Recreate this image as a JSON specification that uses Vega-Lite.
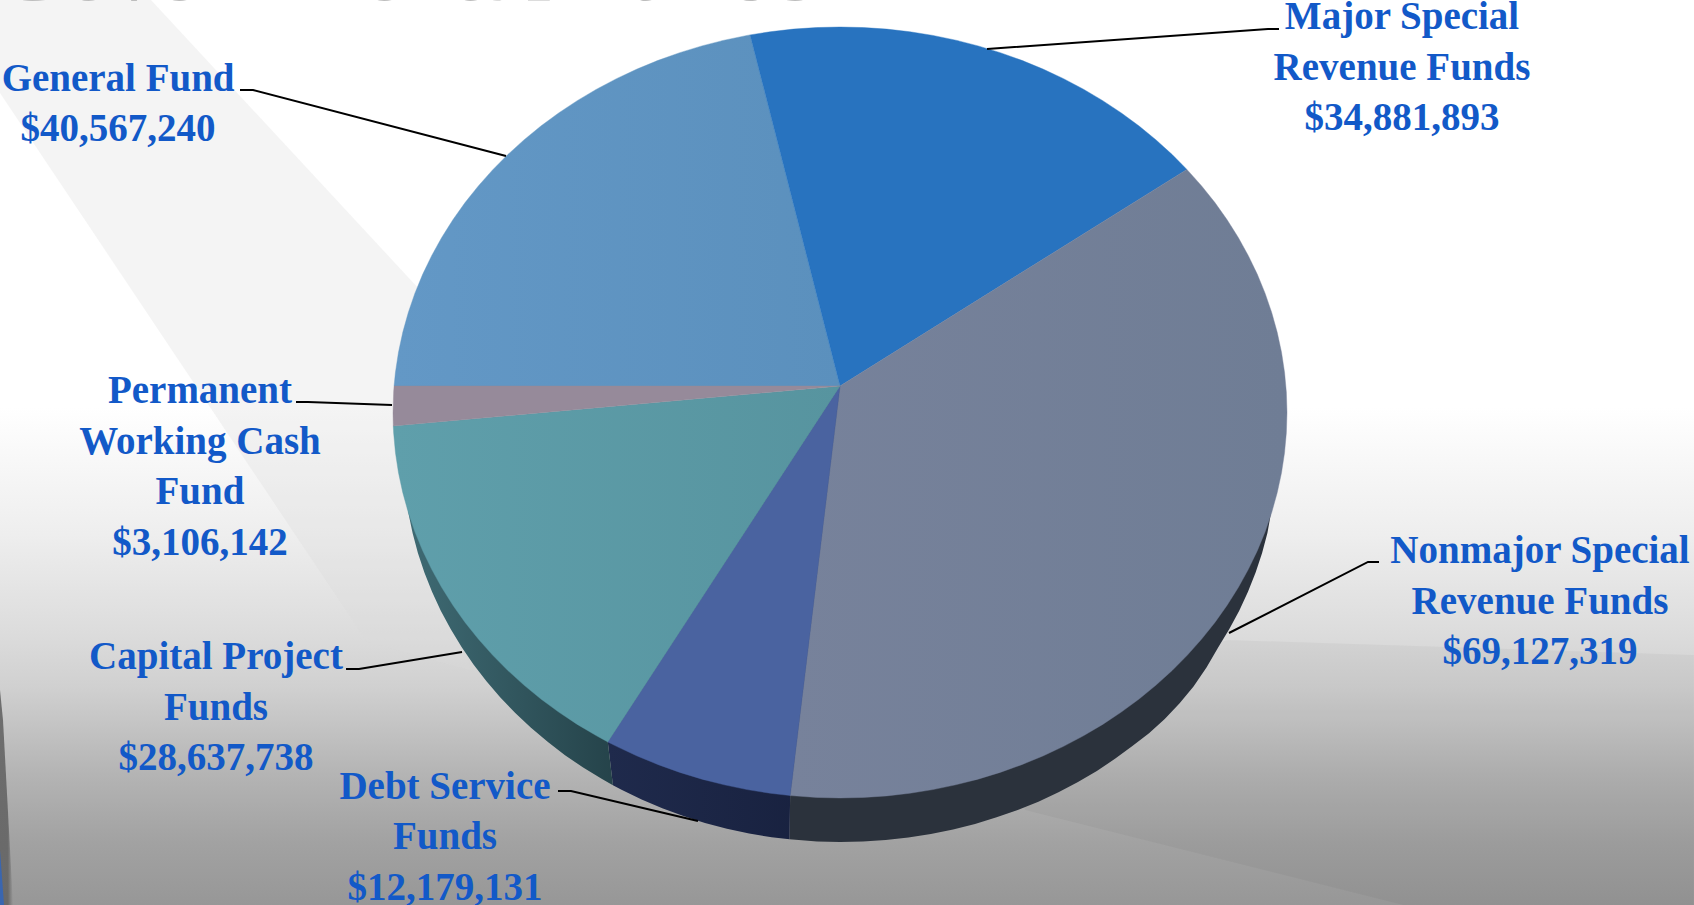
{
  "$schema": "https://vega.github.io/schema/vega-lite/v6.json",
  "description": "Governmental funds: six-part tilted pie with a rim, drawn as polygons in units of percent of the pie's horizontal radius.",
  "width": 1694,
  "height": 905,
  "padding": 0,
  "autosize": "none",
  "background": "#ffffff",
  "view": {"stroke": null},
  "projection": {"type": "identity", "reflectY": true, "scale": 4.47, "translate": [840, 386]},
  "datasets": {
    "backdrop": [
      {"type": "Feature", "properties": {"part": "panel"}, "geometry": {"type": "Polygon", "coordinates": [[[-187.92, 86.35], [191.05, 86.35], [191.05, -116.11], [-187.92, -116.11], [-187.92, 86.35]]]}},
      {"type": "Feature", "properties": {"part": "bandLeft"}, "geometry": {"type": "Polygon", "coordinates": [[[-187.92, 86.35], [-154.14, 86.35], [-93.96, 21.48], [-82.77, -63.53], [-105.82, -57.27], [-187.92, 65.55], [-187.92, 86.35]]]}},
      {"type": "Feature", "properties": {"part": "bandRight"}, "geometry": {"type": "Polygon", "coordinates": [[[86.8, -56.82], [191.05, -60.18], [191.05, -116.11], [125.95, -116.11], [41.39, -94.85], [35.8, -70.2], [86.8, -56.82]]]}},
      {"type": "Feature", "properties": {"part": "edge"}, "geometry": {"type": "Polygon", "coordinates": [[[-187.92, -68.0], [-187.25, -74.72], [-185.0, -116.11], [-187.92, -116.11], [-187.92, -68.0]]]}},
      {"type": "Feature", "properties": {"part": "edgeTip"}, "geometry": {"type": "Polygon", "coordinates": [[[-187.92, -103.8], [-187.02, -116.11], [-187.92, -116.11], [-187.92, -103.8]]]}}
    ],
    "rim": [
      {"type": "Feature", "properties": {"fund": "Nonmajor Special Revenue Funds"}, "geometry": {"type": "Polygon", "coordinates": [[[0, 0], [97.76, -14.77], [97.22, -23.89], [95.62, -32.91], [94.43, -37.35], [92.98, -41.73], [91.27, -46.04], [89.31, -50.26], [87.1, -54.38], [84.66, -58.4], [81.99, -63], [79.09, -67.2], [75.98, -71], [72.65, -74.5], [69.13, -77.7], [65.41, -80.54], [61.52, -83.4], [57.46, -86.13], [53.24, -88.6], [48.88, -90.9], [44.38, -93], [39.76, -94.85], [35.03, -96.5], [30.21, -98], [25.3, -99.2], [20.33, -100.2], [15.29, -101], [10.22, -101.54], [5.12, -101.9], [0, -102.02], [-5.12, -101.9], [-11.3, -101.4], [-11.15, -91.63], [0, 0]]]}},
      {"type": "Feature", "properties": {"fund": "Debt Service Funds"}, "geometry": {"type": "Polygon", "coordinates": [[[0, 0], [-11.15, -91.63], [-11.3, -101.4], [-15.29, -100.95], [-20.33, -100.11], [-25.3, -99.05], [-30.21, -97.75], [-35.03, -96.22], [-39.76, -94.48], [-44.38, -92.51], [-48.88, -90.33], [-50.8, -89.3], [-51.95, -79.62], [0, 0]]]}},
      {"type": "Feature", "properties": {"fund": "Capital Project Funds"}, "geometry": {"type": "Polygon", "coordinates": [[[0, 0], [-51.95, -79.62], [-50.8, -89.3], [-53.24, -87.94], [-57.46, -85.36], [-61.52, -82.58], [-65.41, -79.61], [-69.13, -76.47], [-72.65, -73.15], [-75.98, -69.68], [-79.09, -66.05], [-81.99, -62.29], [-84.66, -58.4], [-87.1, -54.38], [-89.31, -50.26], [-91.27, -46.04], [-92.98, -41.73], [-94.43, -37.35], [-95.62, -32.91], [-96.56, -28.42], [-97.22, -23.89], [0, 0]]]}}
    ],
    "slices": [
      {"type": "Feature", "properties": {"fund": "General Fund", "amount": 40567240}, "geometry": {"type": "Polygon", "coordinates": [[[0, 0], [-99.76, 0], [-99.45, 3.08], [-98.77, 7.56], [-97.81, 12], [-96.59, 16.39], [-95.11, 20.72], [-93.36, 24.98], [-91.35, 29.15], [-89.1, 33.22], [-86.6, 37.19], [-83.87, 41.04], [-80.9, 44.76], [-77.72, 48.34], [-74.31, 51.78], [-70.71, 55.05], [-66.91, 58.16], [-62.93, 61.09], [-58.78, 63.84], [-54.46, 66.4], [-50, 68.76], [-45.4, 70.91], [-40.67, 72.85], [-35.84, 74.58], [-30.9, 76.09], [-25.88, 77.37], [-20.79, 78.43], [-20.11, 78.55], [0, 0]]]}},
      {"type": "Feature", "properties": {"fund": "Major Special Revenue Funds", "amount": 34881893}, "geometry": {"type": "Polygon", "coordinates": [[[0, 0], [-20.11, 78.55], [-15.64, 79.25], [-10.45, 79.84], [-5.23, 80.19], [0, 80.31], [5.23, 80.19], [10.45, 79.84], [15.64, 79.25], [20.79, 78.43], [25.88, 77.37], [30.9, 76.09], [35.84, 74.58], [40.67, 72.85], [45.4, 70.91], [50, 68.76], [54.46, 66.4], [58.78, 63.84], [62.93, 61.09], [66.91, 58.16], [70.71, 55.05], [74.31, 51.78], [77.6, 48.46], [0, 0]]]}},
      {"type": "Feature", "properties": {"fund": "Nonmajor Special Revenue Funds", "amount": 69127319}, "geometry": {"type": "Polygon", "coordinates": [[[0, 0], [77.6, 48.46], [80.9, 44.76], [83.87, 41.04], [86.6, 37.19], [89.1, 33.22], [91.35, 29.15], [93.36, 24.98], [95.11, 20.72], [96.59, 16.39], [97.81, 12], [98.77, 7.56], [99.45, 3.08], [99.86, -1.42], [100, -5.93], [99.86, -10.44], [99.45, -14.94], [98.77, -19.42], [97.81, -23.86], [96.59, -28.25], [95.11, -32.58], [93.36, -36.84], [91.35, -41.01], [89.1, -45.08], [86.6, -49.05], [83.87, -52.9], [80.9, -56.62], [77.72, -60.2], [74.31, -63.64], [70.71, -66.91], [66.91, -70.02], [62.93, -72.95], [58.78, -75.7], [54.46, -78.26], [50, -80.62], [45.4, -82.77], [40.67, -84.71], [35.84, -86.44], [30.9, -87.95], [25.88, -89.23], [20.79, -90.29], [15.64, -91.11], [10.45, -91.7], [5.23, -92.05], [0, -92.17], [-5.23, -92.05], [-11.15, -91.63], [0, 0]]]}},
      {"type": "Feature", "properties": {"fund": "Debt Service Funds", "amount": 12179131}, "geometry": {"type": "Polygon", "coordinates": [[[0, 0], [-11.15, -91.63], [-15.64, -91.11], [-20.79, -90.29], [-25.88, -89.23], [-30.9, -87.95], [-35.84, -86.44], [-40.67, -84.71], [-45.4, -82.77], [-50, -80.62], [-51.95, -79.62], [0, 0]]]}},
      {"type": "Feature", "properties": {"fund": "Capital Project Funds", "amount": 28637738}, "geometry": {"type": "Polygon", "coordinates": [[[0, 0], [-51.95, -79.62], [-54.46, -78.26], [-58.78, -75.7], [-62.93, -72.95], [-66.91, -70.02], [-70.71, -66.91], [-74.31, -63.64], [-77.72, -60.2], [-80.9, -56.62], [-83.87, -52.9], [-86.6, -49.05], [-89.1, -45.08], [-91.35, -41.01], [-93.36, -36.84], [-95.11, -32.58], [-96.59, -28.25], [-97.81, -23.86], [-98.77, -19.42], [-99.45, -14.94], [-99.86, -10.44], [-99.94, -8.94], [0, 0]]]}},
      {"type": "Feature", "properties": {"fund": "Permanent Working Cash Fund", "amount": 3106142}, "geometry": {"type": "Polygon", "coordinates": [[[0, 0], [-99.94, -8.94], [-100, -5.93], [-99.86, -1.42], [-99.76, 0], [0, 0]]]}}
    ],
    "leaders": [
      {"type": "Feature", "properties": {"fund": "General Fund"}, "geometry": {"type": "LineString", "coordinates": [[-134.23, 66.22], [-131.32, 66.22], [-74.72, 51.45]]}},
      {"type": "Feature", "properties": {"fund": "Major Special Revenue Funds"}, "geometry": {"type": "LineString", "coordinates": [[98.21, 79.87], [95.75, 79.87], [32.89, 75.39]]}},
      {"type": "Feature", "properties": {"fund": "Nonmajor Special Revenue Funds"}, "geometry": {"type": "LineString", "coordinates": [[120.58, -39.37], [118.12, -39.37], [87.02, -55.26]]}},
      {"type": "Feature", "properties": {"fund": "Permanent Working Cash Fund"}, "geometry": {"type": "LineString", "coordinates": [[-121.7, -3.58], [-119.02, -3.58], [-100.22, -4.25]]}},
      {"type": "Feature", "properties": {"fund": "Capital Project Funds"}, "geometry": {"type": "LineString", "coordinates": [[-110.51, -63.31], [-107.61, -63.31], [-84.56, -59.51]]}},
      {"type": "Feature", "properties": {"fund": "Debt Service Funds"}, "geometry": {"type": "LineString", "coordinates": [[-63.09, -90.6], [-60.18, -90.6], [-31.77, -97.32]]}}
    ],
    "labels": [
      {"label": "General Fund\n$40,567,240", "lon": -161.5, "lat": 66.04},
      {"label": "Major Special\nRevenue Funds\n$34,881,893", "lon": 125.73, "lat": 79.87},
      {"label": "Nonmajor Special\nRevenue Funds\n$69,127,319", "lon": 156.6, "lat": -39.6},
      {"label": "Permanent\nWorking Cash\nFund\n$3,106,142", "lon": -143.18, "lat": -3.8},
      {"label": "Capital Project\nFunds\n$28,637,738", "lon": -139.6, "lat": -63.31},
      {"label": "Debt Service\nFunds\n$12,179,131", "lon": -88.37, "lat": -92.3}
    ],
    "heading": [
      {"label": "Governmental Funds", "lon": -97.3, "lat": 86.35}
    ]
  },
  "layer": [
    {
      "data": {"name": "backdrop"},
      "transform": [{"filter": "datum.properties.part === 'panel'"}],
      "mark": {"type": "geoshape", "stroke": null, "fill": {"gradient": "linear", "x1": 0, "y1": 0, "x2": 0, "y2": 1, "stops": [
        {"offset": 0, "color": "#ffffff"},
        {"offset": 0.45, "color": "#ffffff"},
        {"offset": 0.59, "color": "#eeeeee"},
        {"offset": 0.7, "color": "#dcdcdc"},
        {"offset": 0.76, "color": "#d0d0d0"},
        {"offset": 0.855, "color": "#b4b4b4"},
        {"offset": 0.93, "color": "#a2a2a2"},
        {"offset": 1, "color": "#979797"}
      ]}}
    },
    {
      "data": {"name": "backdrop"},
      "transform": [{"filter": "datum.properties.part === 'bandLeft'"}],
      "mark": {"type": "geoshape", "stroke": null, "fill": "#dadada", "fillOpacity": 0.3}
    },
    {
      "data": {"name": "backdrop"},
      "transform": [{"filter": "datum.properties.part === 'bandRight'"}],
      "mark": {"type": "geoshape", "stroke": null, "fill": "#000000", "fillOpacity": 0.035}
    },
    {
      "data": {"name": "backdrop"},
      "transform": [{"filter": "datum.properties.part === 'edge'"}],
      "mark": {"type": "geoshape", "stroke": null, "fill": {"gradient": "linear", "x1": 0, "y1": 0, "x2": 1, "y2": 0, "stops": [
        {"offset": 0, "color": "rgba(100,100,100,0.9)"},
        {"offset": 0.6, "color": "rgba(100,100,100,0.9)"},
        {"offset": 1, "color": "rgba(100,100,100,0)"}
      ]}}
    },
    {
      "data": {"name": "backdrop"},
      "transform": [{"filter": "datum.properties.part === 'edgeTip'"}],
      "mark": {"type": "geoshape", "stroke": null, "fill": "#3a66b0"}
    },
    {
      "data": {"name": "heading"},
      "mark": {"type": "text", "font": "Liberation Serif", "fontWeight": "bold", "fontSize": 90, "align": "center", "baseline": "alphabetic", "fill": "#bdbdbd"},
      "encoding": {
        "longitude": {"field": "lon", "type": "quantitative"},
        "latitude": {"field": "lat", "type": "quantitative"},
        "text": {"field": "label"}
      }
    },
    {
      "data": {"name": "rim"},
      "transform": [{"filter": "datum.properties.fund === 'Nonmajor Special Revenue Funds'"}],
      "mark": {"type": "geoshape", "fill": "#2b323c", "stroke": null}
    },
    {
      "data": {"name": "rim"},
      "transform": [{"filter": "datum.properties.fund === 'Debt Service Funds'"}],
      "mark": {"type": "geoshape", "stroke": null, "fill": {"gradient": "linear", "x1": 0, "y1": 0, "x2": 1, "y2": 0, "stops": [
        {"offset": 0, "color": "#1f2a4c"},
        {"offset": 1, "color": "#17203d"}
      ]}}
    },
    {
      "data": {"name": "rim"},
      "transform": [{"filter": "datum.properties.fund === 'Capital Project Funds'"}],
      "mark": {"type": "geoshape", "stroke": null, "fill": {"gradient": "linear", "x1": 0, "y1": 0, "x2": 0.48, "y2": 0, "stops": [
        {"offset": 0, "color": "#3f6b74"},
        {"offset": 1, "color": "#25434a"}
      ]}}
    },
    {
      "data": {"name": "slices"},
      "transform": [{"filter": "datum.properties.fund === 'General Fund'"}],
      "mark": {"type": "geoshape", "stroke": "#5f94c1", "strokeWidth": 0.4, "fill": {"gradient": "linear", "x1": 0, "y1": 0, "x2": 1, "y2": 0, "stops": [
        {"offset": 0, "color": "#6398c6"},
        {"offset": 1, "color": "#5b90bd"}
      ]}}
    },
    {
      "data": {"name": "slices"},
      "transform": [{"filter": "datum.properties.fund === 'Major Special Revenue Funds'"}],
      "mark": {"type": "geoshape", "stroke": "#2873bf", "strokeWidth": 0.4, "fill": "#2873bf"}
    },
    {
      "data": {"name": "slices"},
      "transform": [{"filter": "datum.properties.fund === 'Nonmajor Special Revenue Funds'"}],
      "mark": {"type": "geoshape", "stroke": "#737f97", "strokeWidth": 0.4, "fill": {"gradient": "linear", "x1": 0, "y1": 0, "x2": 1, "y2": 0, "stops": [
        {"offset": 0, "color": "#77829b"},
        {"offset": 1, "color": "#6f7d95"}
      ]}}
    },
    {
      "data": {"name": "slices"},
      "transform": [{"filter": "datum.properties.fund === 'Debt Service Funds'"}],
      "mark": {"type": "geoshape", "stroke": "#4a63a0", "strokeWidth": 0.4, "fill": "#4a63a0"}
    },
    {
      "data": {"name": "slices"},
      "transform": [{"filter": "datum.properties.fund === 'Capital Project Funds'"}],
      "mark": {"type": "geoshape", "stroke": "#5b9ba6", "strokeWidth": 0.4, "fill": {"gradient": "linear", "x1": 0, "y1": 0, "x2": 1, "y2": 0, "stops": [
        {"offset": 0, "color": "#5f9fab"},
        {"offset": 1, "color": "#57949f"}
      ]}}
    },
    {
      "data": {"name": "slices"},
      "transform": [{"filter": "datum.properties.fund === 'Permanent Working Cash Fund'"}],
      "mark": {"type": "geoshape", "stroke": "#968a9a", "strokeWidth": 0.4, "fill": "#968a9a"}
    },
    {
      "data": {"name": "leaders"},
      "mark": {"type": "geoshape", "filled": false, "fill": null, "stroke": "#000000", "strokeWidth": 2}
    },
    {
      "data": {"name": "labels"},
      "mark": {"type": "text", "font": "Liberation Serif", "fontWeight": "bold", "fontSize": 39, "lineBreak": "\n", "lineHeight": 50.7, "align": "center", "baseline": "alphabetic", "fill": "#1259c8"},
      "encoding": {
        "longitude": {"field": "lon", "type": "quantitative"},
        "latitude": {"field": "lat", "type": "quantitative"},
        "text": {"field": "label"}
      }
    }
  ]
}
